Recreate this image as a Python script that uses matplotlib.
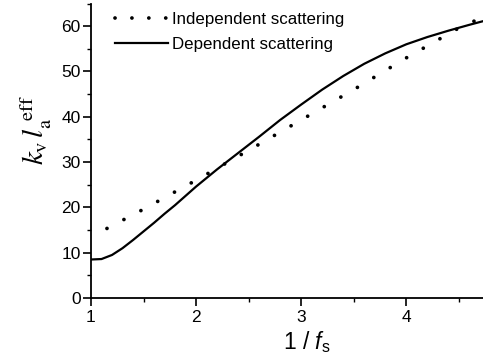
import matplotlib
matplotlib.use('Agg')
import matplotlib.pyplot as plt
from matplotlib.lines import Line2D

# Data
x_dep = [1.0, 1.1, 1.2, 1.3, 1.4, 1.5, 1.6, 1.7, 1.8, 2.0, 2.2, 2.4, 2.6, 2.8,
         3.0, 3.2, 3.4, 3.6, 3.8, 4.0, 4.2, 4.4, 4.6, 4.73]
y_dep = [8.5, 8.6, 9.5, 11.0, 12.8, 14.7, 16.6, 18.6, 20.5, 24.6, 28.4, 32.0, 35.6, 39.3,
         42.7, 46.0, 49.0, 51.7, 54.0, 56.0, 57.6, 59.0, 60.3, 61.1]

x_ind = [1.0, 1.5, 2.0, 2.5, 3.0, 3.5, 4.0, 4.5, 4.73]
y_ind = [13.5, 19.6, 26.0, 32.6, 39.3, 46.0, 53.0, 59.6, 62.0]

labels = ['Independent scattering', 'Dependent scattering']

plt.rcParams['font.family'] = ['Liberation Sans', 'DejaVu Sans']
plt.rcParams['mathtext.fontset'] = 'custom'
plt.rcParams['mathtext.rm'] = 'Liberation Sans'
plt.rcParams['mathtext.it'] = 'Liberation Sans:italic'

fig = plt.figure(figsize=(4.83, 3.6), dpi=100)
ax = fig.add_axes([0.1884, 0.1722, 0.8116, 0.818])

ax.plot(x_ind, y_ind, color='black', linestyle=(0.3, (0.01, 5.1)), linewidth=2.7,
        dash_capstyle='round')
ax.plot(x_dep, y_dep, color='black', linewidth=1.6)

ax.set_xlim(1, 4.73)
ax.set_ylim(0, 65)
ax.set_xticks([1, 2, 3, 4])
ax.set_xticks([1.5, 2.5, 3.5, 4.5], minor=True)
ax.set_yticks(range(0, 61, 10))
ax.set_yticks(range(5, 66, 10), minor=True)
ax.spines['top'].set_visible(False)
ax.spines['right'].set_visible(False)
for s in ['left', 'bottom']:
    ax.spines[s].set_linewidth(1.3)
ax.tick_params(which='major', direction='out', length=6, width=1.2, labelsize=12.5, pad=1.5)
ax.tick_params(axis='x', which='major', pad=2.5)
ax.tick_params(which='minor', direction='out', length=3, width=1.0)

ax.set_xlabel(r'$\mathit{1\ /\ f}_{\mathrm{s}}$', fontsize=16.5)
ax.xaxis.set_label_coords(0.55, -0.105)
ax.set_ylabel(r'$k_{\rm v}\,l_{\rm a}^{\ \rm eff}$', fontsize=21, math_fontfamily='stix')
ax.yaxis.set_label_coords(-0.095, 0.57)

# legend handles (dot spacing in the key is tighter than on the curve)
handles = [Line2D([], [], color='black', linestyle=(0, (0.01, 4.5)), linewidth=2.7,
                  dash_capstyle='round'),
           Line2D([], [], color='black', linewidth=1.6)]
ax.legend(handles, labels, loc='upper left', frameon=False, fontsize=12.2,
          handlelength=3.1, handletextpad=0.25, labelspacing=0.57,
          borderaxespad=0.0, bbox_to_anchor=(0.045, 0.993))

fig.savefig('out.png', dpi=100)
